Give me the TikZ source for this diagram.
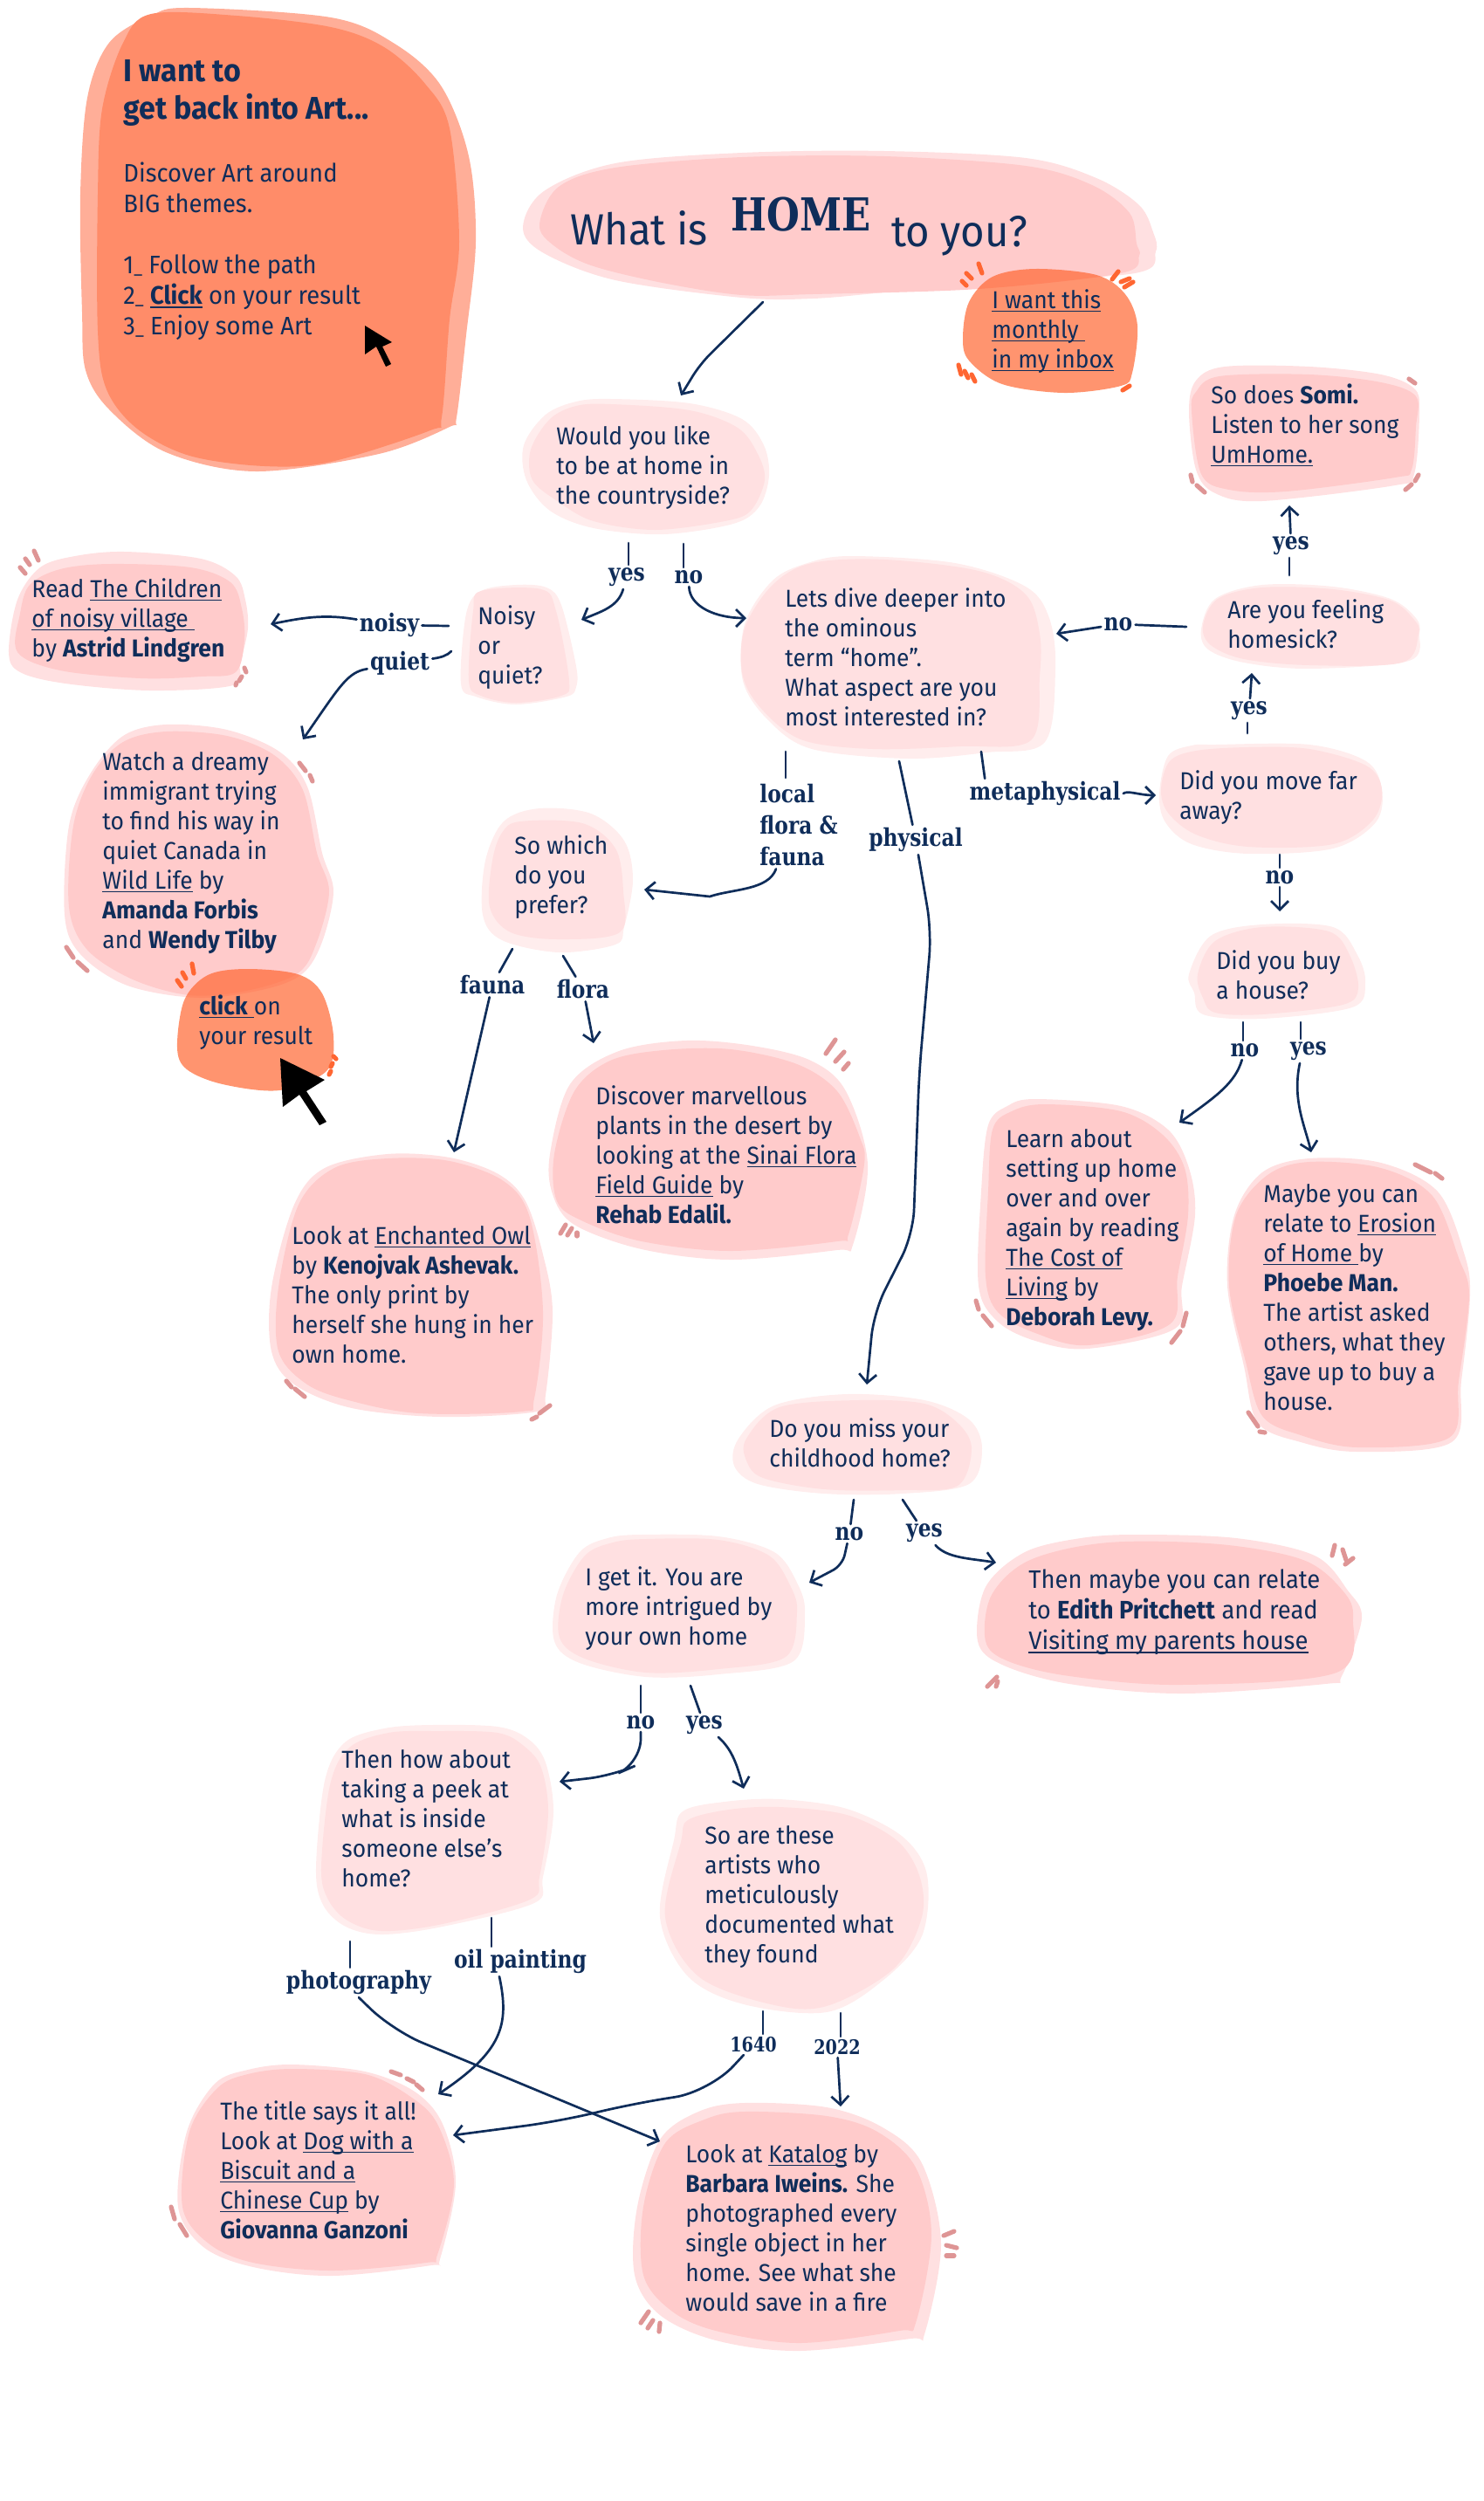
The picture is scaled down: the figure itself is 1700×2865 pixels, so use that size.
\documentclass[tikz,border=0pt]{standalone}
\usepackage{fontspec}
\setmainfont{Fira Sans}[FakeStretch=0.945]
\newfontfamily\slabfont{DejaVu Serif}[FakeStretch=0.835]
\usetikzlibrary{arrows.meta}
\definecolor{navy}{HTML}{0F2D5A}
\definecolor{orangeA}{HTML}{FFAE98}
\definecolor{orangeB}{HTML}{FF8C69}
\definecolor{spark}{HTML}{FF6632}
\definecolor{pinkA}{HTML}{FFE0E1}
\definecolor{pinkB}{HTML}{FFCBCB}
\definecolor{pinkC}{HTML}{FFEDED}
\definecolor{tick}{HTML}{DE9595}
\newcommand{\blob}[2]{\fill[#1] plot[smooth cycle,tension=.55] coordinates {#2};}
\newcommand{\lnk}[1]{\setbox0\hbox{#1}\rlap{\rule[-1.8pt]{\wd0}{0.6pt}}\box0\relax}
\newcommand{\stepnum}[1]{#1{\fontsize{10pt}{10pt}\selectfont\_}\ }
\tikzset{
  txt/.style={anchor=north west,align=left,inner sep=0pt,text=navy,font=\fontsize{14pt}{17pt}\selectfont},
  lab/.style={inner sep=1.5pt,text=navy,font=\slabfont\bfseries\fontsize{14pt}{18pt}\selectfont},
  wire/.style={draw=navy,line width=1.35pt,line cap=round},
  wirearrow/.style={wire,-{Straight Barb[length=5pt,width=10pt]}},
  tickmark/.style={line width=2.6pt,line cap=round,draw=tick},
  sparkmark/.style={line width=2.6pt,line cap=round,draw=spark}
}
\begin{document}
\begin{tikzpicture}
[x=.5pt,y=-.5pt]
\useasboundingbox (0,0) rectangle (1700,2865);

\blob{orangeA}{(217,9) (379,20) (452,50) (505,98) (537,179) (545,277) (534,384) (523,478) (515,489) (434,520) (293,540) (190,518) (125,469) (98,424) (94,357) (92,223) (100,112) (125,49) (173,18)}
\blob{orangeB}{(173,16) (271,18) (379,31) (440,54) (487,96) (515,147) (526,277) (515,366) (506,478) (493,493) (379,529) (303,534) (217,522) (157,491) (122,446) (112,379) (112,223) (117,125) (141,49)}
\blob{pinkA}{(850,175) (1013,173) (1175,181) (1256,204) (1305,235) (1321,266) (1324,288) (1300,313) (1110,326) (1013,335) (931,342) (850,341) (705,321) (623,290) (599,261) (623,219) (705,187)}
\blob{pinkB}{(850,180) (1013,179) (1175,190) (1251,212) (1294,244) (1302,279) (1305,293) (1284,313) (1121,331) (931,337) (850,338) (759,324) (677,304) (634,281) (618,257) (640,214) (705,192)}
\blob{pinkC}{(700,457) (790,462) (850,480) (875,510) (881,545) (870,580) (840,600) (760,612) (680,605) (630,585) (603,550) (600,510) (625,475) (660,460)}
\blob{pinkA}{(700,463) (790,470) (845,490) (868,520) (876,550) (860,585) (830,597) (750,607) (680,597) (640,575) (610,550) (608,515) (630,480) (660,465)}
\blob{pinkA}{(143,632) (230,640) (270,660) (281,687) (284,720) (275,760) (267,785) (172,791) (75,783) (23,770) (10,747) (20,687) (46,650) (86,637)}
\blob{pinkB}{(126,646) (218,650) (264,667) (277,697) (280,733) (270,770) (230,775) (161,777) (69,768) (20,747) (23,703) (34,670) (69,652)}
\blob{pinkC}{(591,670) (626,673) (643,693) (660,763) (660,787) (649,798) (591,807) (545,798) (528,783) (534,703) (551,677)}
\blob{pinkA}{(551,677) (620,675) (637,700) (652,780) (643,797) (591,805) (551,797) (537,780) (542,700)}
\blob{pinkC}{(975,637) (1094,645) (1175,672) (1202,708) (1209,766) (1197,850) (1130,862) (1040,869) (930,858) (880,825) (851,780) (853,715) (885,665) (925,645)}
\blob{pinkA}{(1013,641) (1121,654) (1175,681) (1191,726) (1191,775) (1181,848) (1100,855) (1000,858) (920,848) (875,815) (851,775) (853,720) (885,670) (930,645)}
\blob{pinkA}{(1403,420) (1500,420) (1582,429) (1620,445) (1626,471) (1620,543) (1598,556) (1446,574) (1392,565) (1370,538) (1362,471) (1370,436)}
\blob{pinkB}{(1397,431) (1500,429) (1582,438) (1622,454) (1622,489) (1617,538) (1598,547) (1473,563) (1408,561) (1376,543) (1365,471) (1370,449)}
\blob{pinkC}{(1446,670) (1527,672) (1593,686) (1622,708) (1626,726) (1614,757) (1500,766) (1425,759) (1384,744) (1376,721) (1392,686)}
\blob{pinkA}{(1446,673) (1527,675) (1593,688) (1620,710) (1625,726) (1606,759) (1500,762) (1425,755) (1387,739) (1378,717) (1395,686)}
\blob{pinkC}{(1392,853) (1500,853) (1565,872) (1583,904) (1576,942) (1527,972) (1430,978) (1365,967) (1335,942) (1328,910) (1338,866) (1365,854)}
\blob{pinkA}{(1500,858) (1565,877) (1583,904) (1573,939) (1527,967) (1430,970) (1370,956) (1338,931) (1330,904) (1340,872) (1370,860) (1430,856)}
\blob{pinkC}{(1446,1059) (1527,1062) (1555,1094) (1564,1126) (1549,1154) (1446,1167) (1378,1162) (1368,1137) (1362,1116) (1387,1072)}
\blob{pinkA}{(1446,1062) (1522,1067) (1546,1094) (1556,1132) (1538,1151) (1446,1162) (1392,1160) (1378,1143) (1372,1116) (1392,1078)}
\blob{pinkA}{(190,830) (260,836) (320,861) (352,901) (369,977) (382,1021) (369,1079) (347,1115) (304,1133) (228,1143) (146,1129) (92,1093) (74,1048) (79,946) (103,887) (141,843)}
\blob{pinkB}{(190,838) (260,843) (314,865) (347,905) (363,977) (377,1021) (363,1079) (341,1115) (282,1135) (217,1140) (152,1122) (100,1088) (79,1039) (84,946) (106,887) (141,850)}
\blob{pinkC}{(618,926) (677,932) (715,963) (725,1008) (715,1062) (705,1082) (640,1091) (575,1077) (553,1048) (556,986) (577,941)}
\blob{pinkA}{(596,941) (667,943) (705,972) (714,1021) (710,1068) (640,1076) (585,1068) (561,1039) (564,986) (575,954)}
\blob{pinkA}{(786,1192) (862,1198) (929,1215) (969,1250) (994,1334) (977,1426) (959,1432) (837,1443) (735,1431) (658,1403) (633,1368) (630,1322) (653,1242) (709,1204)}
\blob{pinkB}{(760,1203) (837,1202) (913,1219) (959,1250) (985,1303) (990,1334) (972,1414) (959,1422) (837,1433) (735,1422) (668,1399) (638,1376) (635,1322) (658,1250) (699,1215)}
\blob{pinkA}{(444,1322) (515,1326) (571,1345) (602,1376) (622,1437) (633,1502) (625,1598) (615,1617) (505,1623) (403,1613) (337,1586) (311,1548) (311,1475) (337,1380) (372,1338)}
\blob{pinkB}{(444,1327) (515,1330) (577,1353) (607,1395) (622,1502) (612,1602) (597,1617) (480,1619) (403,1605) (352,1586) (319,1548) (319,1475) (342,1380) (383,1338)}
\blob{pinkA}{(1186,1259) (1284,1267) (1338,1294) (1362,1338) (1369,1392) (1354,1473) (1346,1522) (1246,1545) (1186,1536) (1143,1514) (1121,1473) (1124,1365) (1132,1289) (1154,1267)}
\blob{pinkB}{(1197,1265) (1284,1273) (1332,1300) (1357,1338) (1361,1392) (1349,1462) (1340,1517) (1246,1541) (1186,1527) (1143,1503) (1129,1462) (1132,1365) (1137,1294) (1159,1273)}
\blob{pinkA}{(1500,1327) (1582,1332) (1647,1365) (1677,1435) (1684,1484) (1674,1582) (1663,1652) (1555,1663) (1490,1652) (1441,1630) (1425,1565) (1406,1473) (1414,1392) (1446,1343)}
\blob{pinkB}{(1500,1331) (1582,1338) (1641,1370) (1671,1441) (1683,1484) (1671,1582) (1660,1647) (1555,1658) (1490,1644) (1446,1622) (1427,1560) (1408,1473) (1416,1392) (1452,1346)}
\blob{pinkC}{(970,1597) (1059,1604) (1110,1626) (1125,1659) (1110,1700) (1034,1711) (944,1711) (868,1700) (841,1679) (846,1648) (887,1610)}
\blob{pinkA}{(983,1604) (1059,1608) (1097,1630) (1113,1659) (1097,1702) (1034,1707) (944,1706) (874,1693) (855,1673) (855,1648) (893,1612)}
\blob{pinkC}{(734,1758) (823,1760) (887,1778) (913,1813) (922,1847) (909,1903) (823,1918) (740,1921) (664,1905) (635,1880) (638,1827) (664,1778) (696,1762)}
\blob{pinkA}{(740,1763) (823,1764) (881,1782) (906,1818) (913,1847) (900,1898) (823,1912) (740,1916) (670,1900) (641,1876) (645,1827) (670,1782) (702,1767)}
\blob{pinkA}{(1302,1758) (1416,1762) (1506,1782) (1544,1822) (1560,1854) (1537,1920) (1518,1929) (1353,1940) (1225,1929) (1148,1907) (1120,1880) (1129,1818) (1174,1778) (1238,1762)}
\blob{pinkB}{(1270,1767) (1397,1769) (1493,1787) (1538,1822) (1550,1854) (1531,1916) (1353,1930) (1225,1920) (1155,1903) (1129,1880) (1136,1827) (1180,1787)}
\blob{pinkC}{(494,1976) (570,1978) (605,1992) (625,2019) (634,2077) (622,2150) (612,2180) (507,2207) (437,2216) (396,2207) (370,2182) (362,2140) (372,2040) (395,1996) (440,1980)}
\blob{pinkA}{(500,1983) (570,1985) (600,2000) (620,2025) (628,2077) (618,2150) (607,2176) (507,2204) (437,2212) (398,2200) (376,2176) (368,2140) (378,2045) (400,2002) (445,1985)}
\blob{pinkC}{(893,2061) (970,2072) (1034,2104) (1062,2148) (1056,2218) (1011,2269) (947,2305) (852,2296) (788,2264) (756,2196) (772,2108) (782,2075) (830,2064)}
\blob{pinkA}{(893,2070) (970,2079) (1027,2108) (1053,2148) (1056,2196) (1024,2255) (947,2298) (883,2296) (800,2264) (762,2196) (780,2110) (788,2085) (835,2073)}
\blob{pinkA}{(335,2365) (418,2373) (475,2396) (507,2433) (522,2501) (504,2588) (494,2595) (380,2607) (290,2597) (233,2574) (204,2528) (214,2442) (246,2387) (284,2371)}
\blob{pinkB}{(335,2370) (418,2376) (469,2401) (501,2433) (520,2501) (501,2583) (488,2592) (380,2601) (290,2592) (239,2570) (209,2528) (217,2442) (249,2392) (284,2376)}
\blob{pinkA}{(852,2409) (947,2414) (1011,2437) (1056,2478) (1078,2570) (1059,2674) (1043,2679) (915,2693) (820,2681) (756,2652) (727,2606) (730,2528) (756,2451) (800,2419)}
\blob{pinkB}{(852,2419) (947,2424) (1005,2442) (1049,2483) (1067,2560) (1049,2661) (1030,2670) (915,2684) (820,2670) (769,2647) (737,2606) (737,2528) (762,2455) (807,2428)}
\blob{spark,opacity=.7}{(1186,308) (1256,315) (1289,337) (1303,373) (1297,427) (1284,442) (1219,450) (1148,440) (1110,413) (1103,387) (1110,346) (1137,317)}
\blob{spark,opacity=.7}{(282,1110) (341,1116) (369,1138) (382,1187) (374,1227) (320,1249) (255,1242) (214,1225) (203,1200) (211,1146) (238,1117)}

\foreach \ax/\ay/\bx/\by in {39/631/44/642,29/640/34/647,23/650/29/657,280/765/282/770,277/775/274/780,271/782/270/785,343/874/350/883,355/888/358/895,76/1085/84/1097,89/1102/100/1112,1614/434/1621/439,1364/544/1366/552,1371/556/1380/564,1625/544/1621/551,1617/555/1610/561,957/1191/946/1207,967/1205/957/1216,972/1218/966/1225,648/1403/642/1413,655/1407/650/1415,661/1412/661/1416,328/1582/334/1589,338/1591/349/1600,630/1610/618/1619,615/1623/609/1626,1118/1490/1121/1500,1126/1507/1136/1519,1359/1504/1355/1519,1352/1525/1342/1538,1621/1334/1639/1343,1644/1344/1652/1350,1430/1618/1441/1634,1443/1640/1449/1641,1529/1770/1526/1782,1538/1775/1542/1787,1550/1785/1541/1792,1142/1921/1131/1932,1143/1926/1141/1932,448/2373/459/2377,466/2381/474/2385,477/2388/484/2394,196/2528/200/2542,206/2548/214/2561,1093/2556/1081/2561,1084/2572/1096/2575,1084/2584/1093/2584,743/2648/734/2661,748/2658/742/2667,756/2661/755/2671}
\draw[tickmark] (\ax,\ay) -- (\bx,\by);
\foreach \ax/\ay/\bx/\by in {1121/302/1125/313,1107/313/1113/319,1102/322/1107/327,1281/311/1274/320,1294/319/1284/323,1298/323/1288/329,1098/418/1101/429,1105/425/1109/433,1113/429/1117/437,1294/442/1286/447,220/1104/222/1115,209/1114/213/1121,203/1123/208/1130,382/1210/385/1213,381/1218/379/1222,379/1227/377/1231}
\draw[sparkmark] (\ax,\ay) -- (\bx,\by);

\fill (418,373) -- (449,392) -- (438,397) -- (448,417) -- (442,420) -- (431,397) -- (418,406) -- cycle;
\fill (321,1212) -- (372,1237) -- (351,1250) -- (374,1285) -- (366,1289) -- (343,1254) -- (324,1268) -- cycle;

\node[txt,font=\bfseries\fontsize{18pt}{21.5pt}\selectfont] (intro) at (141,63) {\strut I want to\\get back into Art...};
\node[txt,font=\fontsize{14.5pt}{17.5pt}\selectfont] (steps) at (141,184) {\strut Discover Art around\\BIG themes.\\[17.5pt]\stepnum{1}Follow the path\\\stepnum{2}\lnk{\textbf{Click}} on your result\\\stepnum{3}Enjoy some Art};
\node[txt,font=\fontsize{25pt}{28pt}\selectfont] (whatis) at (653,241) {\strut What is};
\node[lab,inner sep=0pt,anchor=base west,font=\slabfont\bfseries\fontsize{26pt}{30pt}\selectfont] (home) at (837,264) {HOME};
\node[txt,font=\fontsize{25pt}{28pt}\selectfont] (toyou) at (1021,243) {\strut to you?};
\node[txt] (inbox) at (1136,329) {\strut\lnk{I want this}\\\lnk{monthly\ }\\\lnk{in my inbox}};
\node[txt] (somi) at (1387,438) {\strut So does \textbf{Somi.}\\Listen to her song\\\lnk{UmHome.}};
\node[txt] (country) at (637,485) {\strut Would you like\\to be at home in\\the countryside?};
\node[txt] (dive) at (899,671) {\strut Lets dive deeper into\\the ominous\\term “home”.\\What aspect are you\\most interested in?};
\node[txt] (homesick) at (1406,684) {\strut Are you feeling\\homesick?};
\node[txt] (noisy) at (547,691) {\strut Noisy\\or\\quiet?};
\node[txt] (children) at (36,660) {\strut Read \lnk{The Children}\\\lnk{of noisy village\ }\\by \textbf{Astrid Lindgren}};
\node[txt] (wild) at (117,858) {\strut Watch a dreamy\\immigrant trying\\to find his way in\\quiet Canada in\\\lnk{Wild Life} by\\\textbf{Amanda Forbis}\\and \textbf{Wendy Tilby}};
\node[txt] (clickon) at (228,1138) {\strut\lnk{\textbf{click}\ }on\\your result};
\node[txt] (moved) at (1351,880) {\strut Did you move far\\away?};
\node[txt] (prefer) at (589,954) {\strut So which\\do you\\prefer?};
\node[txt] (house) at (1393,1086) {\strut Did you buy\\a house?};
\node[txt] (sinai) at (682,1241) {\strut Discover marvellous\\plants in the desert by\\looking at the \lnk{Sinai Flora}\\\lnk{Field Guide} by\\\textbf{Rehab Edalil.}};
\node[txt] (levy) at (1152,1290) {\strut Learn about\\setting up home\\over and over\\again by reading\\\lnk{The Cost of}\\\lnk{Living} by\\\textbf{Deborah Levy.}};
\node[txt] (owl) at (334,1401) {\strut Look at \lnk{Enchanted Owl}\\by \textbf{Kenojvak Ashevak.}\\The only print by\\herself she hung in her\\own home.};
\node[txt] (erosion) at (1447,1353) {\strut Maybe you can\\relate to \lnk{Erosion}\\\lnk{of Home\ }by\\\textbf{Phoebe Man.}\\The artist asked\\others, what they\\gave up to buy a\\house.};
\node[txt] (childhood) at (881,1622) {\strut Do you miss your\\childhood home?};
\node[txt] (intrigued) at (670,1792) {\strut I get it. You are\\more intrigued by\\your own home};
\node[txt,font=\fontsize{14.5pt}{17.5pt}\selectfont] (edith) at (1178,1795) {\strut Then maybe you can relate\\to \textbf{Edith Pritchett} and read\\\lnk{Visiting my parents house}};
\node[txt] (peek) at (391,2001) {\strut Then how about\\taking a peek at\\what is inside\\someone else’s\\home?};
\node[txt] (artists) at (807,2088) {\strut So are these\\artists who\\meticulously\\documented what\\they found};
\node[txt] (biscuit) at (252,2404) {\strut The title says it all!\\Look at \lnk{Dog with a}\\\lnk{Biscuit and a}\\\lnk{Chinese Cup} by\\\textbf{Giovanna Ganzoni}};
\node[txt] (katalog) at (785,2453) {\strut Look at \lnk{Katalog} by\\\textbf{Barbara Iweins.} She\\photographed every\\single object in her\\home. See what she\\would save in a fire};

\node[lab] (lyes) at (718,661) {yes};
\node[lab] (lno) at (789,661) {no};
\node[lab] (lnoisy) at (446,716) {noisy};
\node[lab] (lquiet) at (458,760) {quiet};
\node[lab] (lnohome) at (1281,715) {no};
\node[lab] (lyesup) at (1479,625) {yes};
\node[lab] (lyeslow) at (1431,814) {yes};
\node[lab] (lmeta) at (1197,909) {metaphysical};
\node[lab] (lphys) at (1049,962) {physical};
\node[lab,anchor=north west,align=left] (lflora) at (867,891) {\strut local\\flora \&\\fauna};
\node[lab] (lnomove) at (1466,1005) {no};
\node[lab] (lnobuy) at (1426,1203) {no};
\node[lab] (lyesbuy) at (1499,1204) {yes};
\node[lab] (lfauna) at (564,1128) {fauna};
\node[lab] (lfl) at (668,1133) {flora};
\node[lab] (lnomiss) at (973,1757) {no};
\node[lab] (lyesmiss) at (1059,1756) {yes};
\node[lab] (lnoown) at (734,1973) {no};
\node[lab] (lyesown) at (807,1976) {yes};
\node[lab] (lphoto) at (411,2271) {photography};
\node[lab] (loil) at (596,2247) {oil painting};
\node[lab,font=\slabfont\bfseries\fontsize{11.5pt}{14pt}\selectfont] (lold) at (863,2342) {1640};
\node[lab,font=\slabfont\bfseries\fontsize{11.5pt}{14pt}\selectfont] (lnew) at (959,2345) {2022};

\coordinate (s0) at (874,346);
\coordinate (t0) at (780,453);
\coordinate (s1) at (720,622);
\coordinate (s2) at (783,623);
\coordinate (s3) at (900,861);
\coordinate (s4) at (1466,979);
\coordinate (s5) at (1424,1171);
\coordinate (s6) at (1490,1171);
\coordinate (s7) at (734,1931);
\coordinate (s8) at (401,2224);
\coordinate (s9) at (874,2304);
\coordinate (s10) at (963,2306);
\coordinate (s11) at (1477,659);
\coordinate (s12) at (1429,840);
\coordinate (s13) at (587,1087);
\coordinate (s14) at (645,1095);
\coordinate (s15) at (1030,872);
\coordinate (s16) at (978,1718);
\coordinate (s17) at (1034,1718);
\coordinate (s18) at (791,1931);
\coordinate (s19) at (563,2197);
\coordinate (s20) at (1359,718);
\coordinate (s21) at (514,717);
\coordinate (s22) at (517,746);
\coordinate (s23) at (1124,861);

\foreach \from/\to in {s1/lyes,s2/lno,s3/lflora,s4/lnomove,s5/lnobuy,s6/lyesbuy,s7/lnoown,s8/lphoto,s9/lold,s10/lnew,s19/loil}
\draw[wire] (\from) -- (\from |- \to.north);
\foreach \from/\to in {s11/lyesup,s12/lyeslow}
\draw[wire] (\from) -- (\from |- \to.south);
\foreach \from/\to in {s13/lfauna,s14/lfl,s15/lphys,s16/lnomiss,s17/lyesmiss,s18/lyesown,s20/lnohome,s21/lnoisy}
\draw[wire] (\from) -- (\to);
\draw[wire] (s22) .. controls (512,751) and (506,753) .. (lquiet);
\draw[wire] (s23) -- (lmeta.166);

\coordinate (t1) at (666,710);
\coordinate (t2) at (855,708);
\coordinate (t3) at (310,715);
\coordinate (t4) at (347,847);
\coordinate (t5) at (1210,726);
\coordinate (t6) at (1477,579);
\coordinate (t7) at (1434,771);
\coordinate (t8) at (1324,911);
\coordinate (t9) at (993,1586);
\coordinate (t10) at (738,1019);
\coordinate (t11) at (1466,1044);
\coordinate (t12) at (1351,1286);
\coordinate (t13) at (1502,1320);
\coordinate (t14) at (520,1320);
\coordinate (t15) at (680,1195);
\coordinate (t16) at (927,1813);
\coordinate (t17) at (1141,1790);
\coordinate (t18) at (641,2041);
\coordinate (t19) at (852,2049);
\coordinate (t20) at (756,2453);
\coordinate (t21) at (502,2399);
\coordinate (t22) at (519,2446);
\coordinate (t23) at (963,2413);

\draw[wirearrow,rounded corners=8pt] (s0) -- (802,417) -- (t0);
\draw[wirearrow] (lyes) .. controls (708,695) and (690,700) .. (t1);
\draw[wirearrow] (lno) .. controls (790,695) and (820,708) .. (t2);
\draw[wirearrow] (lnoisy) .. controls (370,703) and (345,708) .. (t3);
\draw[wirearrow] (lquiet) .. controls (398,770) and (390,785) .. (t4);
\draw[wirearrow] (lnohome) -- (t5);
\draw[wirearrow] (lyesup) -- (t6);
\draw[wirearrow] (lyeslow) -- (t7);
\draw[wirearrow] (lmeta.east) .. controls (1292,905) and (1305,911) .. (t8);
\draw[wirearrow,rounded corners=14pt] (lphys) -- (1067,1067) -- (1053,1229) -- (1046,1414) -- (1001,1503) -- (t9);
\draw[wirearrow] (lflora.south -| 889,997) .. controls (880,1020) and (840,1018) .. (813,1027) -- (t10);
\draw[wirearrow] (lnomove) -- (t11);
\draw[wirearrow] (lnobuy) .. controls (1415,1240) and (1395,1255) .. (t12);
\draw[wirearrow] (lyesbuy.south -| 1489,1212) .. controls (1480,1260) and (1495,1290) .. (t13);
\draw[wirearrow] (lfauna) -- (t14);
\draw[wirearrow] (lfl) -- (t15);
\draw[wirearrow,rounded corners=6pt] (lnomiss) -- (965,1793) -- (t16);
\draw[wirearrow] (lyesmiss) .. controls (1085,1785) and (1110,1785) .. (t17);
\draw[wirearrow,rounded corners=14pt] (lnoown) -- (734,2020) -- (702,2034) -- (t18);
\draw[wirearrow] (lyesown) .. controls (840,2005) and (845,2025) .. (t19);
\draw[wirearrow,rounded corners=18pt] (lphoto.south) -- (450,2326) -- (t20);
\draw[wirearrow] (loil.south -| 572,2266) .. controls (584,2320) and (575,2350) .. (t21);
\draw[wirearrow,rounded corners=20pt] (lold) -- (813,2396) -- (724,2410) -- (641,2430) -- (t22);
\draw[wirearrow] (lnew) -- (t23);
\end{tikzpicture}
\end{document}
